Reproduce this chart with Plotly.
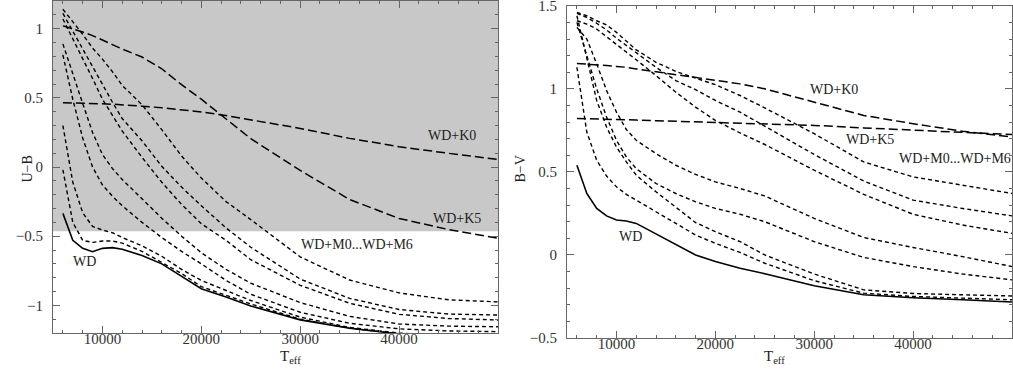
import plotly.graph_objects as go

# effective temperature grid shared by every curve
teff = [6000, 7000, 8000, 9000, 10000, 11000, 12000, 14000, 16000, 18000,
        20000, 22500, 25000, 30000, 35000, 40000, 45000, 50000]

# left panel: U-B
ub_wd = [-0.335, -0.53, -0.588, -0.612, -0.588, -0.583, -0.595, -0.64, -0.70, -0.79,
         -0.88, -0.94, -1.005, -1.105, -1.165, -1.207, -1.23, -1.25]
ub_k0 = [0.465, 0.464, 0.462, 0.46, 0.457, 0.454, 0.451, 0.44, 0.428, 0.415,
         0.398, 0.372, 0.34, 0.279, 0.207, 0.147, 0.099, 0.055]
ub_k5 = [1.02, 1.0, 0.976, 0.95, 0.915, 0.885, 0.853, 0.795, 0.71, 0.595,
         0.49, 0.345, 0.205, -0.025, -0.235, -0.372, -0.452, -0.515]
ub_m = [
    [-0.02, -0.40, -0.53, -0.545, -0.535, -0.535, -0.55, -0.61, -0.69, -0.77,
     -0.865, -0.93, -0.99, -1.10, -1.165, -1.205, -1.225, -1.24],
    [0.30, -0.11, -0.33, -0.43, -0.455, -0.475, -0.51, -0.57, -0.645, -0.74,
     -0.82, -0.89, -0.965, -1.085, -1.16, -1.20, -1.22, -1.23],
    [0.81, 0.49, 0.21, 0.0, -0.13, -0.21, -0.28, -0.40, -0.51, -0.61,
     -0.70, -0.82, -0.92, -1.05, -1.13, -1.17, -1.185, -1.19],
    [0.89, 0.67, 0.46, 0.25, 0.09, -0.01, -0.09, -0.23, -0.37, -0.50,
     -0.62, -0.74, -0.84, -0.98, -1.08, -1.135, -1.15, -1.155],
    [1.07, 0.93, 0.79, 0.64, 0.49, 0.37, 0.26, 0.07, -0.11, -0.27,
     -0.41, -0.53, -0.67, -0.855, -0.985, -1.065, -1.095, -1.106],
    [1.11, 0.98, 0.85, 0.72, 0.59, 0.47, 0.35, 0.19, 0.005, -0.145,
     -0.28, -0.44, -0.58, -0.81, -0.95, -1.03, -1.063, -1.07],
    [1.14, 1.05, 0.96, 0.86, 0.78, 0.69, 0.59, 0.45, 0.27, 0.08,
     -0.08, -0.25, -0.38, -0.65, -0.817, -0.91, -0.96, -0.975],
]

# right panel: B-V
bv_wd = [0.54, 0.37, 0.28, 0.235, 0.21, 0.204, 0.19, 0.125, 0.06, 0.0,
         -0.04, -0.08, -0.113, -0.185, -0.24, -0.258, -0.27, -0.283]
bv_k0 = [1.153, 1.15, 1.145, 1.14, 1.135, 1.13, 1.12, 1.103, 1.087, 1.07,
         1.053, 1.03, 1.0, 0.92, 0.84, 0.79, 0.745, 0.71]
bv_k5 = [0.822, 0.821, 0.82, 0.818, 0.816, 0.814, 0.812, 0.808, 0.804, 0.80,
         0.798, 0.795, 0.79, 0.78, 0.765, 0.75, 0.738, 0.725]
bv_m = [
    [1.13, 0.74, 0.57, 0.475, 0.41, 0.365, 0.33, 0.26, 0.185, 0.12,
     0.07, 0.015, -0.05, -0.155, -0.23, -0.25, -0.26, -0.27],
    [1.44, 1.19, 0.93, 0.77, 0.65, 0.56, 0.48, 0.38, 0.29, 0.195,
     0.14, 0.08, 0.0, -0.115, -0.21, -0.232, -0.24, -0.247],
    [1.40, 1.20, 1.00, 0.83, 0.69, 0.59, 0.52, 0.43, 0.37, 0.32,
     0.28, 0.245, 0.20, 0.08, -0.015, -0.07, -0.115, -0.15],
    [1.37, 1.30, 1.15, 0.99, 0.86, 0.755, 0.69, 0.61, 0.54, 0.485,
     0.44, 0.40, 0.355, 0.22, 0.105, 0.045, -0.01, -0.07],
    [1.41, 1.39, 1.36, 1.315, 1.27, 1.22, 1.175, 1.08, 0.98, 0.89,
     0.81, 0.735, 0.665, 0.51, 0.365, 0.245, 0.18, 0.13],
    [1.455, 1.43, 1.395, 1.355, 1.305, 1.26, 1.215, 1.13, 1.05, 0.995,
     0.93, 0.86, 0.775, 0.605, 0.445, 0.33, 0.28, 0.235],
    [1.46, 1.44, 1.41, 1.385, 1.34, 1.29, 1.235, 1.16, 1.105, 1.065,
     1.025, 0.96, 0.885, 0.73, 0.56, 0.47, 0.42, 0.37],
]

shaded_top = 1.2
shaded_bottom = -0.465

FONT = "Liberation Serif"
INK = "#222"

fig = go.Figure()


def add_curves(xa, ya, wd, k0, k5, m_list):
    for vals in m_list:
        fig.add_trace(go.Scatter(x=teff, y=vals, xaxis=xa, yaxis=ya, mode="lines",
                                 line=dict(color="black", width=1.4, dash="4px,3px"),
                                 showlegend=False, hoverinfo="skip"))
    for vals in (k0, k5):
        fig.add_trace(go.Scatter(x=teff, y=vals, xaxis=xa, yaxis=ya, mode="lines",
                                 line=dict(color="black", width=1.5, dash="9px,4px"),
                                 showlegend=False, hoverinfo="skip"))
    fig.add_trace(go.Scatter(x=teff, y=wd, xaxis=xa, yaxis=ya, mode="lines",
                             line=dict(color="black", width=1.6),
                             showlegend=False, hoverinfo="skip"))


add_curves("x", "y", ub_wd, ub_k0, ub_k5, ub_m)
add_curves("x2", "y2", bv_wd, bv_k0, bv_k5, bv_m)

fig.add_shape(type="rect", xref="x", yref="y", x0=5000, x1=50000,
              y0=shaded_bottom, y1=shaded_top,
              fillcolor="#c8c8c8", line=dict(width=0), layer="below")

axis_common = dict(
    showgrid=False, zeroline=False, showline=True, linecolor="#666", linewidth=1,
    mirror="allticks", ticks="inside", ticklen=7, tickcolor="#666",
    ticklabeloverflow="allow", automargin=False,
    tickfont=dict(family=FONT, size=15, color="#333"),
)
xcommon = dict(axis_common, range=[5000, 50000], tickformat="d", ticklabelstandoff=-8,
               tickvals=[10000, 20000, 30000, 40000],
               minor=dict(ticks="inside", tick0=0, dtick=2000, ticklen=3, tickcolor="#666"))
ycommon = dict(axis_common, ticklabelstandoff=6,
               minor=dict(ticks="inside", dtick=0.1, tick0=0, ticklen=3, tickcolor="#666"))

annots = []


def label(xref, yref, x, y, text, size=14, angle=0):
    annots.append(dict(xref=xref, yref=yref, x=x, y=y, text=text, showarrow=False,
                       textangle=angle, font=dict(family=FONT, size=size, color=INK)))


label("x", "y", 45340, 0.231, "WD+K0")
label("x", "y", 45850, -0.369, "WD+K5")
label("x", "y", 35730, -0.557, "WD+M0...WD+M6")
label("x", "y", 8230, -0.685, "WD")
label("x2", "y2", 31990, 0.999, "WD+K0")
label("x2", "y2", 35630, 0.698, "WD+K5")
label("x2", "y2", 44230, 0.581, "WD+M0...WD+M6")
label("x2", "y2", 11420, 0.11, "WD")

# axis titles
label("paper", "paper", -0.037, 0.5, "U\u2212B", angle=-90)
label("paper", "paper", 0.487, 0.5, "B\u2212V", angle=-90)
label("paper", "paper", 0.235, -0.088, "T<sub>eff</sub>", size=15)
label("paper", "paper", 0.765, -0.088, "T<sub>eff</sub>", size=15)

fig.update_layout(
    width=1013, height=371,
    margin=dict(l=53, r=1, t=1, b=33, autoexpand=False),
    paper_bgcolor="white", plot_bgcolor="white",
    font=dict(family=FONT, color=INK),
    xaxis=dict(xcommon, domain=[0, 0.464], anchor="y"),
    yaxis=dict(ycommon, domain=[0.0148, 1.0], range=[-1.2, 1.2], anchor="x",
               tickvals=[-1, -0.5, 0, 0.5, 1]),
    xaxis2=dict(xcommon, domain=[0.536, 1.0], anchor="y2"),
    yaxis2=dict(ycommon, domain=[0.0, 0.986], range=[-0.5, 1.5005], anchor="x2",
                tickvals=[-0.5, 0, 0.5, 1, 1.5]),
    annotations=annots,
)

# drop the default page margin so the figure sits at the window's corner
fig.write_html("out.html", config={"displayModeBar": False},
               post_script="document.body.style.margin='0';document.body.style.overflow='hidden';")
